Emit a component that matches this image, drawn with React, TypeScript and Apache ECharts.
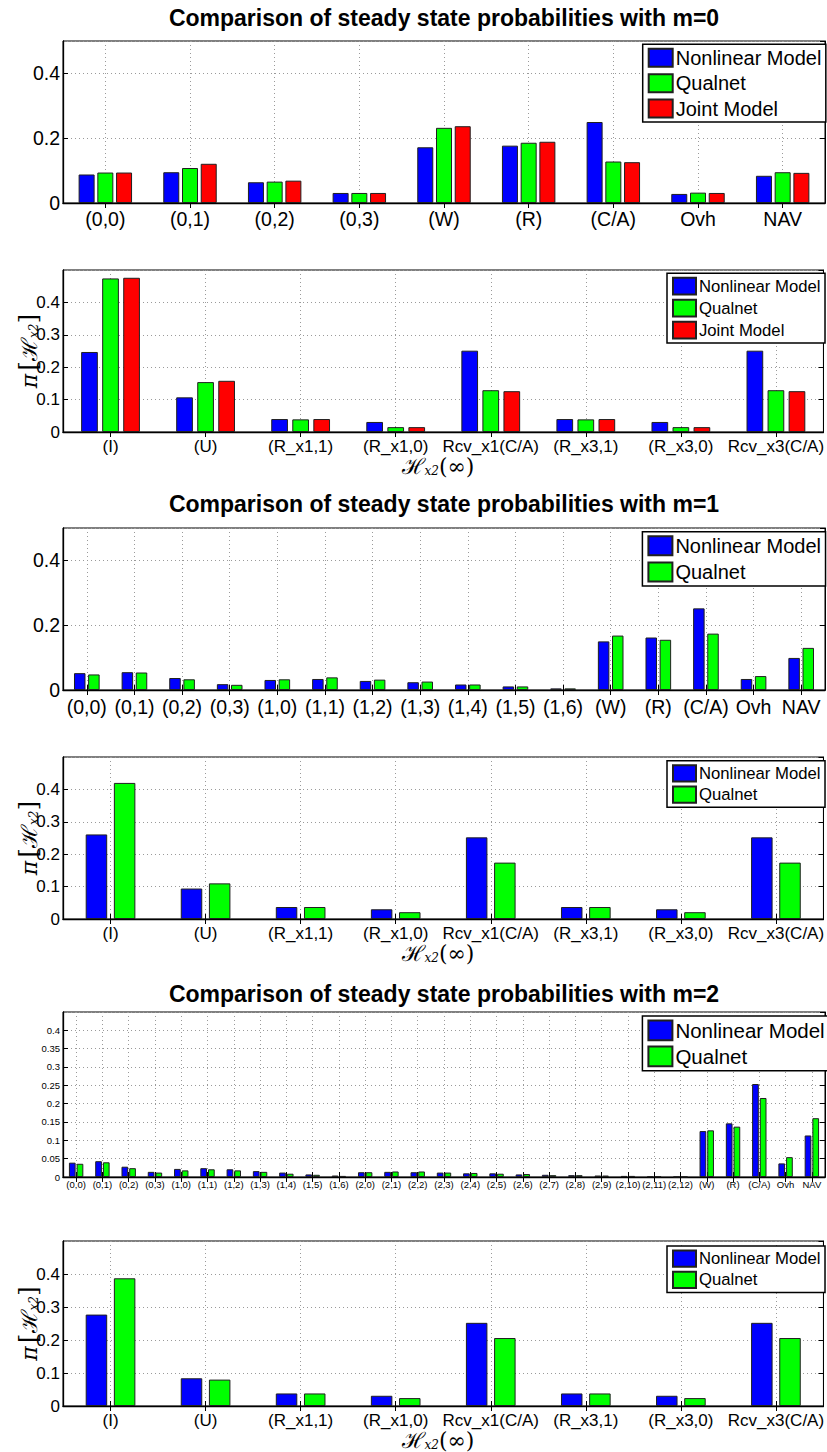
import React, { useEffect, useRef } from 'react';
import * as echarts from 'echarts';

const NL = 'Nonlinear Model';
const QN = 'Qualnet';
const JM = 'Joint Model';

const titles = [
  'Comparison of steady state probabilities with m=0',
  'Comparison of steady state probabilities with m=1',
  'Comparison of steady state probabilities with m=2',
];

// m = 0
const catsTopM0 = ['(0,0)', '(0,1)', '(0,2)', '(0,3)', '(W)', '(R)', '(C/A)', 'Ovh', 'NAV'];
const nlTopM0 = [0.088, 0.095, 0.064, 0.031, 0.172, 0.177, 0.250, 0.028, 0.084];
const qnTopM0 = [0.094, 0.108, 0.066, 0.031, 0.232, 0.186, 0.128, 0.032, 0.095];
const jmTopM0 = [0.094, 0.121, 0.069, 0.031, 0.237, 0.189, 0.126, 0.031, 0.093];

const catsBottom = ['(I)', '(U)', '(R_x1,1)', '(R_x1,0)', 'Rcv_x1(C/A)', '(R_x3,1)', '(R_x3,0)', 'Rcv_x3(C/A)'];
const nlBotM0 = [0.247, 0.107, 0.040, 0.031, 0.251, 0.040, 0.031, 0.251];
const qnBotM0 = [0.474, 0.154, 0.039, 0.015, 0.129, 0.039, 0.015, 0.129];
const jmBotM0 = [0.476, 0.158, 0.040, 0.015, 0.126, 0.040, 0.015, 0.126];

// m = 1
const catsTopM1 = ['(0,0)', '(0,1)', '(0,2)', '(0,3)', '(1,0)', '(1,1)', '(1,2)', '(1,3)', '(1,4)', '(1,5)', '(1,6)', '(W)', '(R)', '(C/A)', 'Ovh', 'NAV'];
const nlTopM1 = [0.052, 0.055, 0.037, 0.018, 0.031, 0.034, 0.028, 0.024, 0.017, 0.011, 0.005, 0.150, 0.162, 0.252, 0.034, 0.099];
const qnTopM1 = [0.048, 0.054, 0.033, 0.016, 0.033, 0.039, 0.032, 0.026, 0.017, 0.011, 0.005, 0.168, 0.155, 0.174, 0.043, 0.130];

const nlBotM1 = [0.261, 0.094, 0.037, 0.030, 0.252, 0.037, 0.030, 0.252];
const qnBotM1 = [0.420, 0.110, 0.037, 0.021, 0.174, 0.037, 0.021, 0.174];

// m = 2
const catsTopM2 = ['(0,0)', '(0,1)', '(0,2)', '(0,3)', '(1,0)', '(1,1)', '(1,2)', '(1,3)', '(1,4)', '(1,5)', '(1,6)',
  '(2,0)', '(2,1)', '(2,2)', '(2,3)', '(2,4)', '(2,5)', '(2,6)', '(2,7)', '(2,8)', '(2,9)', '(2,10)', '(2,11)', '(2,12)',
  '(W)', '(R)', '(C/A)', 'Ovh', 'NAV'];
const nlTopM2 = [0.039, 0.043, 0.028, 0.014, 0.022, 0.024, 0.021, 0.016, 0.012, 0.007, 0.004,
  0.013, 0.014, 0.013, 0.012, 0.010, 0.010, 0.007, 0.006, 0.005, 0.004, 0.003, 0.002, 0.001,
  0.125, 0.146, 0.253, 0.037, 0.113];
const qnTopM2 = [0.036, 0.040, 0.024, 0.012, 0.018, 0.021, 0.018, 0.014, 0.009, 0.006, 0.003,
  0.013, 0.015, 0.015, 0.012, 0.011, 0.009, 0.008, 0.005, 0.005, 0.004, 0.003, 0.002, 0.001,
  0.127, 0.137, 0.215, 0.054, 0.160];

const nlBotM2 = [0.277, 0.084, 0.038, 0.031, 0.252, 0.038, 0.031, 0.252];
const qnBotM2 = [0.387, 0.080, 0.038, 0.024, 0.206, 0.038, 0.024, 0.206];

const COLORS: Record<string, string> = { [NL]: '#0000ff', [QN]: '#00ff00', [JM]: '#ff0000' };
const FONT = 'Liberation Sans, Arial, Helvetica, sans-serif';

type Panel = {
  cats: string[];
  series: [string, number[]][];
  top: number;
  height: number;
  max: number;
  interval: number;
  fs: number;
  barWidth: number;
  barGap: string;
  labelMargin: number;
  legend: { top: number; left: number; iw: number; ih: number; gap: number; fs: number };
  axisNames?: boolean;
};

const GRID_LEFT = 63;
const GRID_WIDTH = 762;

const panels: Panel[] = [
  {
    cats: catsTopM0, series: [[NL, nlTopM0], [QN, qnTopM0], [JM, jmTopM0]],
    top: 41, height: 162, max: 0.5, interval: 0.2, fs: 19.5, barWidth: 16, barGap: '17%', labelMargin: 6,
    legend: { top: 44.3, left: 642.7, iw: 24, ih: 18, gap: 5.4, fs: 20 },
  },
  {
    cats: catsBottom, series: [[NL, nlBotM0], [QN, qnBotM0], [JM, jmBotM0]],
    top: 270, height: 162, max: 0.5, interval: 0.1, fs: 17, barWidth: 16.7, barGap: '26%', labelMargin: 6,
    legend: { top: 273.3, left: 667, iw: 23, ih: 16.7, gap: 3.3, fs: 16.7 }, axisNames: true,
  },
  {
    cats: catsTopM1, series: [[NL, nlTopM1], [QN, qnTopM1]],
    top: 528, height: 162, max: 0.5, interval: 0.2, fs: 19.5, barWidth: 11.5, barGap: '23%', labelMargin: 7,
    legend: { top: 531.7, left: 642.4, iw: 24, ih: 19, gap: 5.3, fs: 20 },
  },
  {
    cats: catsBottom, series: [[NL, nlBotM1], [QN, qnBotM1]],
    top: 757, height: 162, max: 0.5, interval: 0.1, fs: 17, barWidth: 21.5, barGap: '31%', labelMargin: 6,
    legend: { top: 760.7, left: 667, iw: 23, ih: 16.3, gap: 3, fs: 16.7 }, axisNames: true,
  },
  {
    cats: catsTopM2, series: [[NL, nlTopM2], [QN, qnTopM2]],
    top: 1012, height: 165, max: 0.449, interval: 0.05, fs: 9.5, barWidth: 6.7, barGap: '15%', labelMargin: 2,
    legend: { top: 1016, left: 642.4, iw: 24, ih: 19.7, gap: 4.3, fs: 20.5 },
  },
  {
    cats: catsBottom, series: [[NL, nlBotM2], [QN, qnBotM2]],
    top: 1241, height: 165, max: 0.5, interval: 0.1, fs: 17, barWidth: 21.5, barGap: '31%', labelMargin: 6,
    legend: { top: 1246, left: 667, iw: 23, ih: 16.3, gap: 3, fs: 16.7 }, axisNames: true,
  },
];

const titleY = [17.5, 504, 994];

function buildOption() {
  const grid: any[] = [];
  const xAxis: any[] = [];
  const yAxis: any[] = [];
  const series: any[] = [];
  const legend: any[] = [];
  const graphic: any[] = [];

  const dotted = { color: '#9a9a9a', width: 1, type: [1, 3] };

  panels.forEach((p, i) => {
    grid.push({
      left: GRID_LEFT, top: p.top, width: GRID_WIDTH, height: p.height,
      show: true, borderColor: '#000', borderWidth: 1, backgroundColor: '#fff', containLabel: false,
    });
    xAxis.push({
      type: 'category', gridIndex: i, data: p.cats, position: 'bottom',
      boundaryGap: true,
      axisLine: { show: true, lineStyle: { color: '#000', width: 1.3 } },
      axisTick: { show: true, inside: true, alignWithLabel: true, length: 5, interval: 0, lineStyle: { color: '#000' } },
      axisLabel: { interval: 0, fontSize: p.fs, fontFamily: FONT, color: '#000', margin: p.labelMargin },
      splitLine: { show: true, alignWithLabel: true, interval: 0, lineStyle: dotted },
    });
    xAxis.push({
      type: 'category', gridIndex: i, data: p.cats, position: 'top',
      boundaryGap: true,
      axisLine: { show: true, lineStyle: { color: '#000', width: 1 } },
      axisTick: { show: true, inside: true, alignWithLabel: true, length: 5, interval: 0, lineStyle: { color: '#000' } },
      axisLabel: { show: false },
      splitLine: { show: false },
    });
    yAxis.push({
      type: 'value', gridIndex: i, min: 0, max: p.max, interval: p.interval, position: 'left',
      axisLine: { show: true, lineStyle: { color: '#000', width: 1.3 } },
      axisTick: { show: true, inside: true, length: 5, lineStyle: { color: '#000' } },
      axisLabel: {
        fontSize: p.fs, fontFamily: FONT, color: '#000', margin: 3, showMaxLabel: false,
        formatter: (v: number) => (v === 0 ? '0' : String(parseFloat(v.toFixed(3)))),
      },
      splitLine: { show: true, lineStyle: dotted },
    });
    yAxis.push({
      type: 'value', gridIndex: i, min: 0, max: p.max, interval: p.interval, position: 'right',
      axisLine: { show: true, lineStyle: { color: '#000', width: 1 } },
      axisTick: { show: true, inside: true, length: 5, lineStyle: { color: '#000' } },
      axisLabel: { show: false },
      splitLine: { show: false },
    });
    p.series.forEach(([name, vals]) => {
      series.push({
        type: 'bar', name, xAxisIndex: 2 * i, yAxisIndex: 2 * i, data: vals,
        barWidth: p.barWidth, barGap: p.barGap,
        itemStyle: { color: COLORS[name], borderColor: '#202020', borderWidth: 1 },
        emphasis: { disabled: true },
      });
    });
    const lg = p.legend;
    legend.push({
      orient: 'vertical', left: lg.left, top: lg.top,
      data: p.series.map((s) => s[0]),
      icon: 'rect', itemWidth: lg.iw, itemHeight: lg.ih, itemGap: lg.gap,
      padding: [3.5, 4.5, 3.5, 5],
      backgroundColor: '#fff', borderColor: '#000', borderWidth: 1.5,
      selectedMode: false,
      textStyle: { fontSize: lg.fs, fontFamily: FONT, color: '#000', lineHeight: lg.ih, padding: [0, 0, 0, -2] },
    });

    if (p.axisNames) {
      const cy = p.top + p.height / 2;
      graphic.push({
        type: 'text', x: 25, y: cy, rotation: Math.PI / 2,
        style: {
          text: '{p|π}{b|[}{h|ℋ}{s|x2}{b|]}',
          align: 'center', verticalAlign: 'middle', fill: '#000',
          rich: {
            p: { fontSize: 22, fontFamily: 'DejaVu Serif', fontStyle: 'italic', lineHeight: 30, verticalAlign: 'bottom', padding: [0, 3, 0, 0] },
            b: { fontSize: 25, fontFamily: 'DejaVu Serif', lineHeight: 30, verticalAlign: 'bottom' },
            h: { fontSize: 22, fontFamily: 'DejaVu Serif', lineHeight: 30, verticalAlign: 'bottom' },
            s: { fontSize: 12, fontFamily: 'DejaVu Serif', fontStyle: 'italic', lineHeight: 10, verticalAlign: 'bottom' },
          },
        },
      });
      graphic.push({
        type: 'text', x: GRID_LEFT + GRID_WIDTH / 2 - 6, y: p.top + p.height + 34,
        style: {
          text: '{h|ℋ}{s|x2}{p|(∞)}',
          align: 'center', verticalAlign: 'middle', fill: '#000',
          rich: {
            h: { fontSize: 22, fontFamily: 'DejaVu Serif', lineHeight: 22, verticalAlign: 'bottom' },
            s: { fontSize: 12, fontFamily: 'DejaVu Serif', fontStyle: 'italic', lineHeight: 6, verticalAlign: 'bottom' },
            p: { fontSize: 22, fontFamily: 'DejaVu Serif', lineHeight: 22, verticalAlign: 'bottom' },
          },
        },
      });
    }
  });

  titles.forEach((t, k) => {
    graphic.push({
      type: 'text', x: GRID_LEFT + GRID_WIDTH / 2, y: titleY[k],
      style: {
        text: t, align: 'center', verticalAlign: 'middle', fill: '#000',
        font: `bold 23px ${FONT}`,
      },
    });
  });

  return {
    animation: false,
    backgroundColor: '#fff',
    grid, xAxis, yAxis, series, legend, graphic,
  };
}

export default function App() {
  const ref = useRef<HTMLDivElement>(null);
  useEffect(() => {
    if (!ref.current) return;
    const chart = echarts.init(ref.current, undefined, { renderer: 'svg' });
    chart.setOption(buildOption() as any);
    return () => chart.dispose();
  }, []);
  return (
    <div
      ref={ref}
      style={{ position: 'absolute', left: 0, top: 0, width: 827, height: 1452, background: '#fff' }}
    />
  );
}
